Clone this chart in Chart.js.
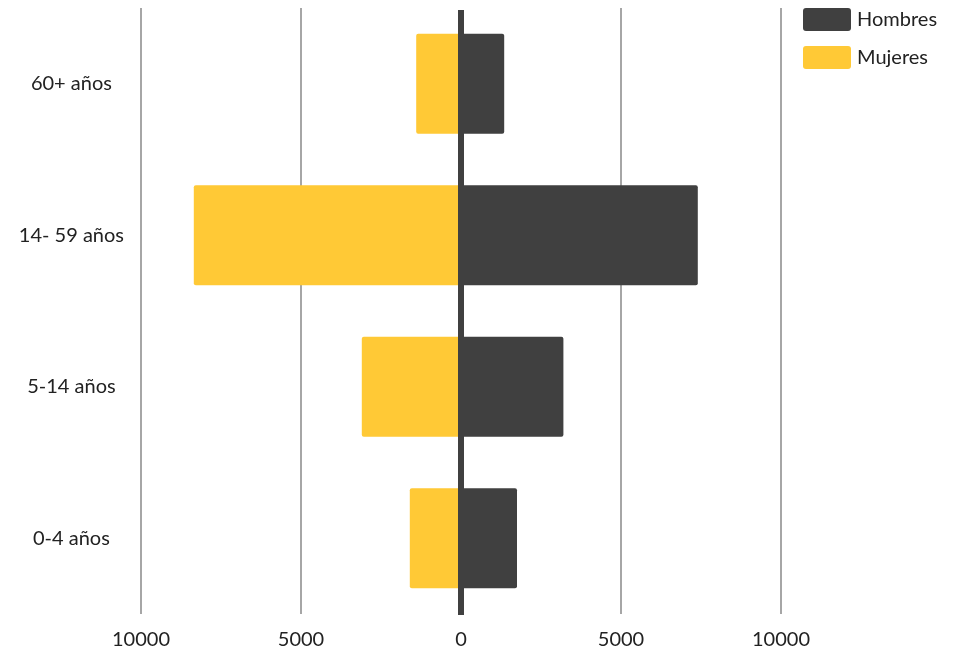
<!DOCTYPE html>
<html>
<head>
<meta charset="utf-8">
<script src="https://cdn.jsdelivr.net/npm/chart.js@4.4.1/dist/chart.umd.min.js"></script>
<style>
  html, body { margin: 0; padding: 0; background: #fff; }
  #wrap { width: 957px; height: 652px; }
</style>
</head>
<body>
<div id="wrap"><canvas id="pyramid"></canvas></div>
<script>
const ageGroups = ["60+ años", "14- 59 años", "5-14 años", "0-4 años"];
const hombres = [1350, 7400, 3200, 1750];
const mujeres = [1400, 8350, 3100, 1600];
const xTicks = [-10000, -5000, 0, 5000, 10000];

const textColor = "#222222";
const font = { family: "Lato", size: 20 };

// thick dark line at zero, drawn over the bars
const zeroLine = {
    id: "zeroLine",
    afterDatasetsDraw(chart) {
        const x = chart.scales.x.getPixelForValue(0);
        const area = chart.chartArea;
        const ctx = chart.ctx;
        ctx.save();
        ctx.strokeStyle = "#404040";
        ctx.lineWidth = 6;
        ctx.beginPath();
        ctx.moveTo(x, area.top + 2);
        ctx.lineTo(x, area.bottom + 1);
        ctx.stroke();
        ctx.restore();
    }
};

// stacked legend in the top right corner
const cornerLegend = {
    id: "cornerLegend",
    afterDraw(chart) {
        const ctx = chart.ctx;
        ctx.save();
        ctx.font = font.size + "px " + font.family;
        ctx.textBaseline = "middle";
        ctx.textAlign = "left";
        chart.data.datasets.forEach((ds, i) => {
            const top = 8 + i * 38;
            ctx.fillStyle = ds.backgroundColor;
            ctx.beginPath();
            ctx.roundRect(803, top, 48, 23, 3);
            ctx.fill();
            ctx.fillStyle = textColor;
            ctx.fillText(ds.label, 857, top + 12);
        });
        ctx.restore();
    }
};

new Chart(document.getElementById("pyramid"), {
    type: "bar",
    data: {
        labels: ageGroups,
        datasets: [
            {
                label: "Hombres",
                data: hombres,
                backgroundColor: "#404040",
                borderRadius: 2,
                borderSkipped: false,
                barPercentage: 0.66,
                categoryPercentage: 1
            },
            {
                label: "Mujeres",
                data: mujeres.map(v => -v),
                backgroundColor: "#ffc936",
                borderRadius: 2,
                borderSkipped: false,
                barPercentage: 0.66,
                categoryPercentage: 1
            }
        ]
    },
    options: {
        indexAxis: "y",
        responsive: true,
        maintainAspectRatio: false,
        animation: false,
        layout: { padding: { top: 8, right: 176, left: 0, bottom: 0 } },
        scales: {
            x: {
                stacked: true,
                min: -10000,
                max: 10000,
                afterBuildTicks: (axis) => {
                    axis.ticks = xTicks.map(v => ({ value: v }));
                },
                afterFit: (axis) => {
                    axis.height = 38;
                    axis.paddingLeft = 0;
                    axis.paddingRight = 0;
                    axis.paddingTop = 0;
                    axis.paddingBottom = 0;
                },
                border: { display: false },
                grid: {
                    drawTicks: false,
                    lineWidth: 2,
                    color: (c) => (c.tick && c.tick.value === 0 ? "rgba(0,0,0,0)" : "#a6a6a6")
                },
                ticks: {
                    padding: 14,
                    color: textColor,
                    font: font,
                    maxRotation: 0,
                    callback: (v) => String(Math.abs(v))
                }
            },
            y: {
                stacked: true,
                afterFit: (axis) => {
                    axis.width = 141;
                    axis.paddingLeft = 0;
                    axis.paddingRight = 0;
                    axis.paddingTop = 0;
                    axis.paddingBottom = 0;
                },
                border: { display: false },
                grid: { display: false, drawTicks: false },
                ticks: {
                    crossAlign: "center",
                    padding: 17,
                    color: textColor,
                    font: font
                }
            }
        },
        plugins: {
            legend: { display: false },
            tooltip: {
                callbacks: {
                    label: (c) => c.dataset.label + ": " + Math.abs(c.raw)
                }
            }
        }
    },
    plugins: [zeroLine, cornerLegend]
});
</script>
</body>
</html>
